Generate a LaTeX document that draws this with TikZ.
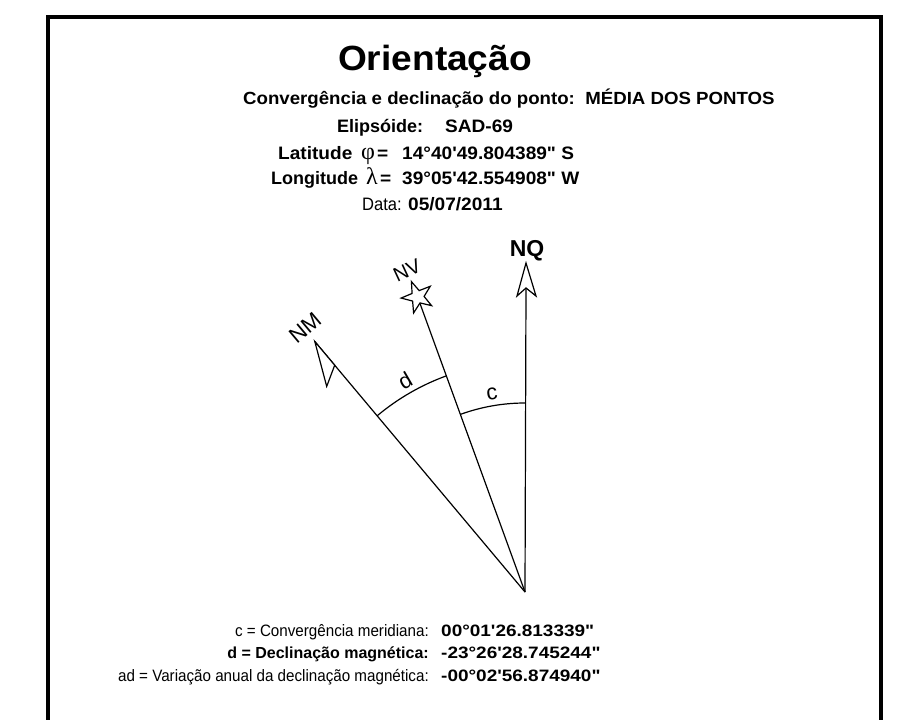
\documentclass[tikz,border=0pt]{standalone}
\usepackage{fontspec}
\setmainfont{Liberation Sans}[Ligatures=TeXOff]
\newfontfamily\hdr{Liberation Sans}[Ligatures=TeXOff, FakeStretch=1.06]
\newfontfamily\nar{Liberation Sans}[Ligatures=TeXOff, FakeStretch=0.92]
\newfontfamily\wid{Liberation Sans}[Ligatures=TeXOff, FakeStretch=1.15]
\newfontfamily\greekfont{Liberation Serif}
\newcommand{\fsz}[1]{\fontsize{#1}{#1}\selectfont}
\begin{document}
\begin{tikzpicture}[x=1pt,y=-1pt,
  ln/.style={line width=1.2pt, line join=miter},
  txt/.style={inner sep=0pt, anchor=base west, font=\hdr\bfseries\fsz{18}},
  txr/.style={inner sep=0pt, anchor=base west, font=\nar\fsz{18}},
  bl/.style={inner sep=0pt, anchor=base east, font=\nar\fsz{16.5}},
  bv/.style={inner sep=0pt, anchor=base west, font=\wid\bfseries\fsz{16.5}},
  lab/.style={inner sep=0pt, font=\fsz{22}}]
\useasboundingbox (0,0) rectangle (922,720);
\clip (0,0) rectangle (922,720);
% frame
\draw[line width=4pt] (48,740) -- (48,17) -- (881,17) -- (881,740);
% title and header
\node[inner sep=0pt, anchor=base, font=\hdr\bfseries\fsz{35}] (title) at (435,70) {Orientação};
\node[txt, font=\hdr\bfseries\fsz{17.6}] (conv) at (243,104) {Convergência e declinação do ponto:\ \ MÉDIA DOS PONTOS};
\node[txt, font=\bfseries\fsz{18}] (elip) at (337,132) {Elipsóide:};
\node[txt] (sad) at (445,132) {SAD-69};
\node[txt] (lat) at (278,159) {Latitude};
\node[txt, font=\greekfont\fsz{24}] (phi) at (361,159) {φ};
\node[txt] (eq1) at (377,159) {=};
\node[txt] (latv) at (402,159) {14°40'49.804389" S};
\node[txt, font=\bfseries\fsz{18}] (lon) at (271,184) {Longitude};
\node[txt, font=\greekfont\fsz{24}] (lam) at (366,184) {λ};
\node[txt] (eq2) at (380,184) {=};
\node[txt] (lonv) at (402,184) {39°05'42.554908" W};
\node[txr] (data) at (362,210) {Data:};
\node[txt] (datav) at (408,210) {05/07/2011};
% diagram
\coordinate (A) at (525,592);
\coordinate (nqn) at (526,288);
\coordinate (nqt) at (526,263);
\coordinate (nql1) at (517,296);
\coordinate (nqr1) at (536,296);
\draw[ln] (A) -- (nqn);
\draw[ln, fill=white] (nql1) -- (nqt) -- (nqr1) -- (nqn) -- cycle;
\coordinate (nmt) at (314.8,341.5);
\coordinate (nmb) at (326.7,386.4);
\coordinate (nmn) at (334.7,365.2);
\draw[ln] (A) -- (nmt);
\draw[ln, fill=white] (nmt) -- (nmb) -- (nmn) -- cycle;
\coordinate (nvc) at (417.6,296.9);
\draw[ln] (A) -- (nvc);
\begin{scope}[shift={(nvc)}, yscale=-1]
  \draw[ln, fill=white] (112:16.5) -- (148:6.5) -- (184:16.5) -- (220:6.5) -- (256:16.5) -- (292:6.5) -- (328:16.5) -- (4:6.5) -- (40:16.5) -- (76:6.5) -- cycle;
\end{scope}
\begin{scope}[shift={(A)}, yscale=-1]
  \draw[ln] (90:189) arc[start angle=90, end angle=110, radius=189];
  \draw[ln] (110:230) arc[start angle=110, end angle=130, radius=230];
\end{scope}
\node[lab, font=\bfseries\fsz{23}] (nqlab) at (527,251) {NQ};
\node[lab, font=\fsz{20}, rotate=25] (nvlab) at (407,270) {NV};
\node[lab, rotate=40] (nmlab) at (305,328) {NM};
\node[lab, rotate=30] (dlab) at (405,381) {d};
\node[lab, rotate=8] (clab) at (492,394) {c};
% bottom legend
\node[bl] (cl) at (429,636) {c = Convergência meridiana:};
\node[bv] (cv) at (441,636) {00°01'26.813339"};
\node[bl, font=\bfseries\fsz{16}] (dl) at (429,658) {d = Declinação magnética:};
\node[bv] (dv) at (441,658) {-23°26'28.745244"};
\node[bl] (adl) at (429,681) {ad = Variação anual da declinação magnética:};
\node[bv] (adv) at (441,681) {-00°02'56.874940"};
\end{tikzpicture}
\end{document}
